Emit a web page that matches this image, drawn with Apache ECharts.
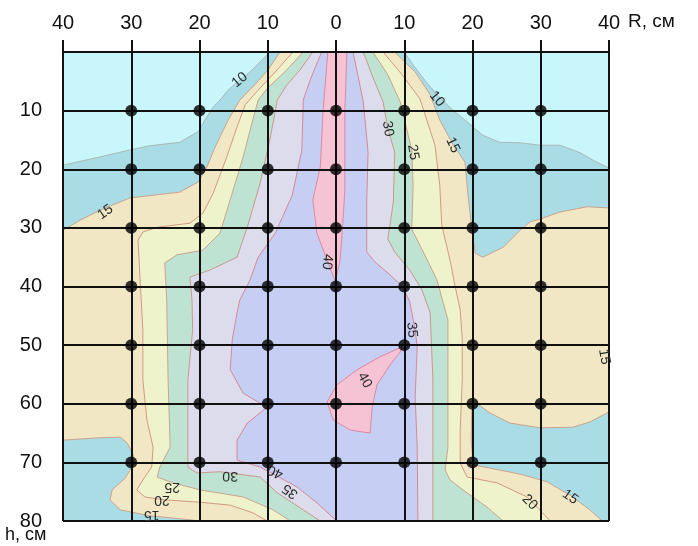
<!DOCTYPE html>
<html>
<head>
<meta charset="utf-8">
<script src="https://cdn.jsdelivr.net/npm/echarts@6/dist/echarts.min.js"></script>
<style>html,body{margin:0;padding:0;background:#fff}#chart{width:698px;height:546px}</style>
</head>
<body>
<div id="chart"></div>
<script>
// R axis ticks (top) and h axis ticks (left)
const xTickValues = [-40, -30, -20, -10, 0, 10, 20, 30, 40];
const xTickLabels = ['40', '30', '20', '10', '0', '10', '20', '30', '40'];
const yTickValues = [10, 20, 30, 40, 50, 60, 70, 80];
const yTickLabels = ['10', '20', '30', '40', '50', '60', '70', '80'];

// measurement points
const dotR = [-30, -20, -10, 0, 10, 20, 30];
const dotH = [10, 20, 30, 40, 50, 60, 70];

// contour levels, each region is "value above level" as [R, h] outline
const levels = [10, 15, 20, 25, 30, 35, 40, 40];
const c10 = [[-9.7,0],[-11.1,1.7],[-12.6,3.4],[-14.1,4.8],[-15.8,6.5],[-17.0,8.2],[-18.0,9.4],[-19.2,11.6],[-20.2,13.6],[-22.9,15.4],[-27.3,16.0],[-30.2,16.7],[-34.6,17.9],[-40,19.3],[-40,80],[40,80],[40,19.8],[37.9,18.6],[35.8,17.2],[32.8,15.9],[29.9,15.9],[27.0,15.5],[24.0,15.4],[21.5,14.2],[19.2,11.9],[17.1,9.9],[14.8,7.3],[13.0,4.8],[11.3,2.2],[10.0,0]];
const c15 = [[-8.2,0],[-10.0,3.1],[-11.9,5.6],[-14.1,8.2],[-15.8,11.6],[-17.7,16.2],[-18.9,19.6],[-20.2,22.2],[-22.9,23.9],[-26.5,24.4],[-30.2,24.9],[-34.6,27.0],[-37.5,28.7],[-40,30.4],[-40,66.2],[-34.6,65.8],[-31.6,65.7],[-30.6,66.7],[-29.7,68.7],[-29.7,70.4],[-30.9,72.7],[-32.8,74.7],[-33.1,76.4],[-31.6,78.1],[-27.3,79.1],[-21.4,79.8],[-19.9,80],[39.0,80],[37.2,78.1],[34.3,75.6],[30.9,73.3],[27.0,72.0],[22.6,71.0],[20.1,70.4],[19.8,66.2],[19.9,61.1],[20.7,60.0],[22.6,61.6],[25.5,63.3],[29.9,64.1],[34.7,64.0],[37.2,63.1],[40,61.4],[40,26.6],[36.8,26.4],[32.8,27.3],[29.9,28.5],[28.4,29.0],[27.0,30.4],[24.5,33.3],[21.5,35.0],[20.4,34.3],[19.9,30.2],[19.3,23.9],[18.9,18.8],[17.1,15.7],[15.2,11.6],[13.8,7.3],[11.6,3.4],[8.6,0]];
const c20 = [[-6.3,0],[-8.9,3.4],[-11.4,6.5],[-13.3,9.0],[-14.5,12.8],[-16.0,17.9],[-18.0,24.1],[-19.5,27.5],[-21.4,29.2],[-26.2,29.9],[-28.3,30.7],[-29.0,32.1],[-28.7,38.9],[-28.3,47.4],[-28.3,55.9],[-27.7,62.8],[-26.8,67.4],[-27.0,70.8],[-28.3,73.0],[-29.2,74.7],[-28.0,75.9],[-25.1,76.4],[-19.9,76.8],[-15.5,77.3],[-12.2,78.6],[-10.1,80],[31.4,80],[28.0,75.9],[23.6,73.5],[19.2,72.5],[18.2,70.1],[18.2,64.5],[18.5,55.9],[18.5,49.1],[18.2,44.0],[17.4,39.7],[16.7,35.5],[15.5,29.5],[15.2,22.7],[14.5,15.9],[12.3,8.0],[9.7,3.9],[6.9,0]];
const c25 = [[-4.8,0],[-7.5,3.4],[-10.0,6.1],[-11.4,8.2],[-12.2,11.6],[-13.6,17.9],[-15.5,25.2],[-17.0,30.9],[-19.5,33.8],[-23.3,34.6],[-25.1,36.0],[-24.8,42.3],[-24.6,55.9],[-24.3,67.4],[-25.8,70.8],[-26.2,72.5],[-23.9,73.5],[-19.9,74.7],[-13.6,75.9],[-9.2,78.1],[-6.7,80],[24.5,80],[22.1,77.6],[19.2,75.2],[16.7,73.0],[16.0,71.3],[16.4,67.4],[16.4,45.7],[14.8,38.9],[13.3,35.3],[11.1,30.2],[11.3,22.7],[11.1,16.7],[9.4,8.5],[7.6,3.9],[5.4,0]];
const c30 = [[-3.4,0],[-5.3,3.1],[-7.2,5.6],[-8.6,8.2],[-9.7,15.0],[-11.1,22.3],[-13.0,29.9],[-14.5,35.0],[-18.5,37.2],[-21.4,38.4],[-21.1,42.3],[-21.0,47.4],[-21.7,55.9],[-21.7,70.8],[-20.4,71.8],[-17.0,71.6],[-11.1,72.5],[-8.6,75.2],[-4.8,78.1],[-2.3,80],[14.2,80],[14.2,67.4],[14.2,55.9],[13.8,44.5],[12.6,40.6],[10.8,37.2],[8.6,34.1],[7.6,31.9],[8.4,25.6],[8.6,17.1],[7.6,13.1],[6.9,8.5],[5.4,4.3],[4.0,0]];
const c35 = [[-2.1,0],[-3.8,4.8],[-4.8,8.2],[-5.0,16.7],[-6.4,24.4],[-8.9,30.9],[-11.4,35.0],[-12.6,38.9],[-14.1,42.3],[-14.5,44.5],[-15.2,49.1],[-15.5,54.2],[-13.6,58.2],[-10.1,60.6],[-13.0,63.3],[-14.5,66.2],[-14.5,69.6],[-11.1,70.8],[-5.7,74.2],[-2.8,76.9],[0.1,80],[12.0,80],[11.9,67.4],[11.6,58.8],[11.9,50.3],[11.6,47.4],[10.8,42.6],[9.8,40.1],[7.9,38.0],[5.7,35.8],[4.5,34.1],[4.5,25.6],[4.7,17.1],[4.0,8.5],[2.5,0]];
const c40a = [[-1.2,0],[-1.9,10.2],[-2.3,19.6],[-3.4,25.2],[-2.8,30.9],[-1.3,35.5],[-0.1,39.2],[0.6,35.5],[1.0,29.2],[1.3,23.5],[1.3,9.9],[1.6,0]];
const c40b = [[9.7,50.3],[6.4,52.0],[3.1,54.2],[0.1,56.8],[-1.3,59.7],[-0.4,62.8],[2.1,64.5],[5.0,65.0],[5.3,60.6],[6.0,56.8],[7.9,53.4],[9.4,51.2]];
const contours = [c10, c15, c20, c25, c30, c35, c40a, c40b];

// contour labels
const labelText = ['10','10','30','25','15','15','40','35','40','15','30','40','35','25','20','15','20','15'];
const labelPos = [[-14.1,4.8],[14.8,8.0],[7.6,13.1],[11.3,17.1],[17.1,15.9],[-33.8,27.3],[-1.3,35.8],[11.1,47.4],[4.2,56.0],[39.3,52.0],[-15.5,72.3],[-8.9,71.6],[-6.7,74.9],[-24.0,74.2],[-25.5,76.4],[-27.0,79.0],[28.4,76.8],[34.3,75.9]];
const labelAngles = [40,-50,-80,-80,-65,35,-95,-85,-60,-80,178,155,145,180,180,180,-45,-35];

const baseColor = '#c8f6fa';
const bandColor = { 10: '#a9dce5', 15: '#f1e7c4', 20: '#eef3cb', 25: '#bfe3d3', 30: '#dcdced', 35: '#c6cef4', 40: '#f5c3d3' };
const lineColor = { 10: '#a9b9ba', 15: '#c9a58e', 20: '#d29a80', 25: '#c9a58e', 30: '#c99a8a', 35: '#d58a95', 40: '#dc8aa0' };
const FONT = '"Liberation Sans", Arial, sans-serif';

const dots = [];
dotH.forEach((h) => dotR.forEach((r) => dots.push([r, h])));

const chart = echarts.init(document.getElementById('chart'), null, { renderer: 'canvas' });

chart.setOption({
  animation: false,
  backgroundColor: '#fff',
  title: [
    { text: 'R, см', left: 623, top: 7, textStyle: { fontSize: 19, fontWeight: 'normal', color: '#111', fontFamily: FONT } },
    { text: 'h, см', left: 0, top: 521, textStyle: { fontSize: 18, fontWeight: 'normal', color: '#111', fontFamily: FONT } },
  ],
  grid: { left: 63, top: 52, width: 546, height: 469, show: true, backgroundColor: baseColor, borderWidth: 0 },
  xAxis: {
    type: 'value', position: 'top', min: -40, max: 40, interval: 10, z: 3,
    axisLine: { show: true, lineStyle: { color: '#111', width: 2 } },
    axisTick: { show: true, length: 12, lineStyle: { color: '#111', width: 2 } },
    splitLine: { show: true, lineStyle: { color: '#111', width: 2 } },
    axisLabel: {
      margin: 19, fontSize: 20, color: '#111', fontFamily: FONT,
      formatter: (v) => xTickLabels[xTickValues.indexOf(v)],
    },
  },
  yAxis: {
    type: 'value', inverse: true, min: 0, max: 80, interval: 10, z: 3,
    axisLine: { show: false },
    axisTick: { show: true, length: 13, customValues: yTickValues, lineStyle: { color: '#111', width: 2 } },
    splitLine: { show: true, lineStyle: { color: ['#111', '#111', '#111', '#111', '#111', '#111', '#111', '#111', '#8c8c8c'], width: 2 } },
    axisLabel: {
      margin: 21, fontSize: 20, color: '#111', fontFamily: FONT, customValues: yTickValues,
      formatter: (v) => yTickLabels[yTickValues.indexOf(v)],
    },
  },
  series: [
    {
      type: 'custom', z: 1, silent: true,
      data: contours.map((c, i) => [c[0][0], c[0][1], i]),
      encode: { x: 0, y: 1 },
      renderItem: (params, api) => {
        const i = api.value(2);
        const lv = levels[i];
        return {
          type: 'polygon',
          shape: { points: contours[i].map((p) => api.coord(p)) },
          style: { fill: bandColor[lv], stroke: lineColor[lv], lineWidth: 1 },
        };
      },
    },
    {
      type: 'custom', z: 4, silent: true,
      data: labelPos.map((p, i) => [p[0], p[1], i]),
      encode: { x: 0, y: 1 },
      renderItem: (params, api) => {
        const i = api.value(2);
        const pt = api.coord([api.value(0), api.value(1)]);
        return {
          type: 'text', x: pt[0], y: pt[1], rotation: labelAngles[i] * Math.PI / 180,
          style: { text: labelText[i], fontSize: 14, fill: '#2a2a2a', fontFamily: FONT, align: 'center', verticalAlign: 'middle' },
        };
      },
    },
    {
      type: 'scatter', z: 5, silent: true,
      data: dots, symbolSize: 12,
      itemStyle: { color: '#000' },
    },
  ],
});
</script>
</body>
</html>
